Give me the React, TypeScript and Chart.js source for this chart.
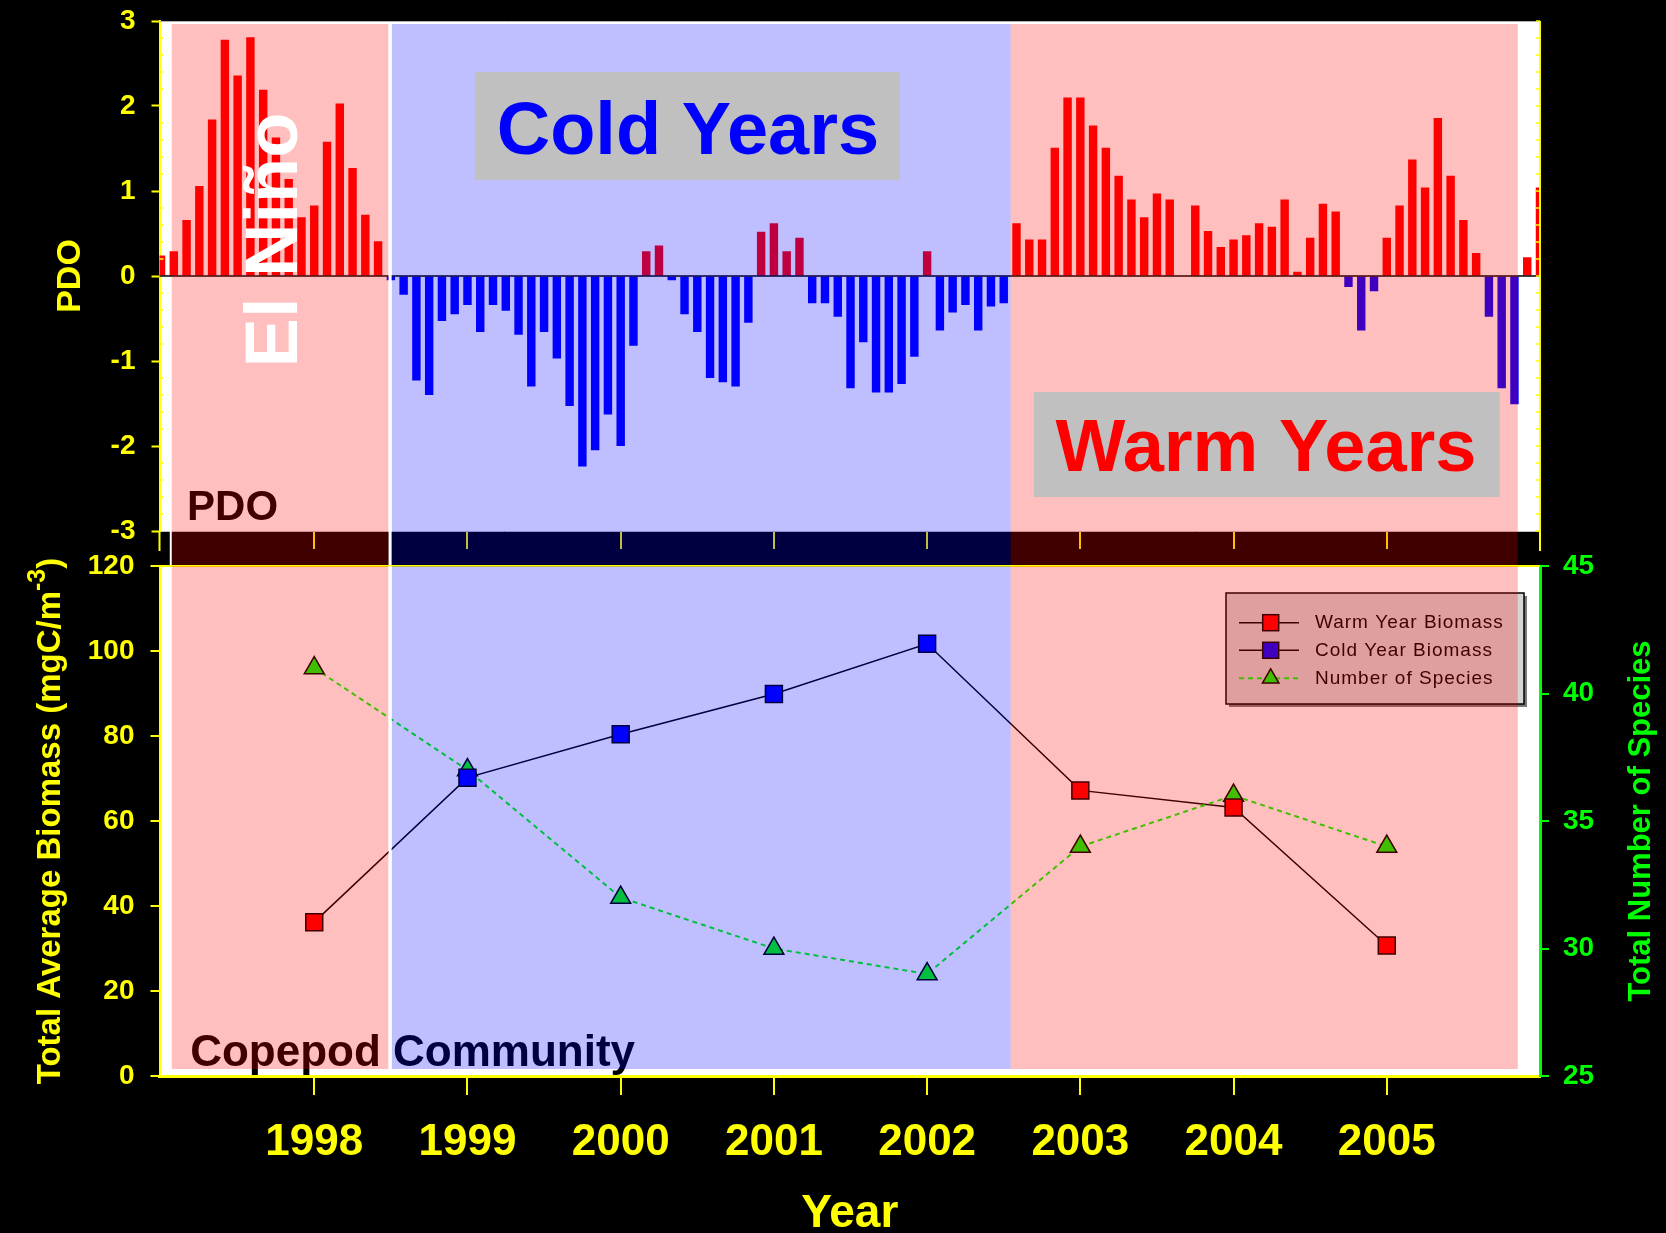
import React, { useEffect, useRef } from 'react';
import { Chart, registerables } from 'chart.js';

Chart.register(...registerables);

const FONT = "'Liberation Sans', Arial, Helvetica, sans-serif";
const YELLOW = '#ffff00';
const GREEN = '#00ff00';

// ---------- data ----------
const pdoStartYear = 1997; // first monthly bar = Jan 1997
const pdoValues = [
  0.24, 0.29, 0.66, 1.06, 1.84, 2.78, 2.36, 2.81, 2.19, 1.63, 1.14, 0.69, // 1997
  0.83, 1.58, 2.03, 1.27, 0.72, 0.41, -0.05, -0.22, -1.23, -1.4, -0.53, -0.45, // 1998
  -0.34, -0.66, -0.34, -0.41, -0.69, -1.3, -0.66, -0.97, -1.53, -2.24, -2.05, -1.63, // 1999
  -2.0, -0.82, 0.29, 0.36, -0.05, -0.45, -0.66, -1.2, -1.25, -1.3, -0.55, 0.52, // 2000
  0.62, 0.29, 0.45, -0.32, -0.32, -0.48, -1.32, -0.78, -1.37, -1.37, -1.27, -0.95, // 2001
  0.29, -0.64, -0.43, -0.34, -0.64, -0.36, -0.32, 0.62, 0.43, 0.43, 1.51, 2.1, // 2002
  2.1, 1.77, 1.51, 1.18, 0.9, 0.69, 0.97, 0.9, 0, 0.83, 0.53, 0.34, // 2003
  0.43, 0.48, 0.62, 0.58, 0.9, 0.05, 0.45, 0.85, 0.76, -0.13, -0.64, -0.18, // 2004
  0.45, 0.83, 1.37, 1.04, 1.86, 1.18, 0.66, 0.27, -0.48, -1.32, -1.51, 0.22, // 2005
  1.04, // Jan 2006
];

const years = [1998, 1999, 2000, 2001, 2002, 2003, 2004, 2005];
const warmBiomass = [36.2, null, null, null, null, 67.2, 63.2, 30.7];
const coldBiomass = [null, 70.2, 80.4, 89.9, 101.7, null, null, null];
const speciesCount = [41, 37, 32, 30, 29, 34, 36, 34];

const pdoTicks = [-3, -2, -1, 0, 1, 2, 3];
const biomassTicks = [0, 20, 40, 60, 80, 100, 120];
const speciesTicks = [25, 30, 35, 40, 45];

// warm / cold shaded periods (decimal years)
const shadeStart = [1997.07, 1998.505, 2002.545];
const shadeEnd = [1998.485, 2002.545, 2005.855];
const shadeKind = ['warm', 'cold', 'warm'];

const legendLabels = ['Warm Year Biomass', 'Cold Year Biomass', 'Number of Species'];

const X_MIN = 1996.99;
const X_MAX = 2006.0;

const WARM_FILL = 'rgba(255,0,0,0.25)';
const COLD_FILL = 'rgba(0,0,255,0.25)';

function bold(size: number) {
  return `bold ${size}px ${FONT}`;
}

function noEdgePadding(s: any) {
  s.paddingTop = 0;
  s.paddingBottom = 0;
}

function drawShading(ctx: CanvasRenderingContext2D, xs: any, top: number, bottom: number) {
  for (let i = 0; i < shadeStart.length; i++) {
    const x0 = xs.getPixelForValue(shadeStart[i]);
    const x1 = xs.getPixelForValue(shadeEnd[i]);
    ctx.fillStyle = shadeKind[i] === 'warm' ? WARM_FILL : COLD_FILL;
    ctx.fillRect(x0, top, x1 - x0, bottom - top);
  }
  // white gap between the first warm and the cold period
  const g0 = xs.getPixelForValue(shadeEnd[0]);
  const g1 = xs.getPixelForValue(shadeStart[1]);
  ctx.fillStyle = '#ffffff';
  ctx.fillRect(g0, top, g1 - g0, bottom - top);
}

function rotatedText(ctx: CanvasRenderingContext2D, text: string, x: number, y: number, font: string, color: string) {
  ctx.save();
  ctx.translate(x, y);
  ctx.rotate(-Math.PI / 2);
  ctx.font = font;
  ctx.fillStyle = color;
  ctx.textAlign = 'center';
  ctx.textBaseline = 'alphabetic';
  ctx.fillText(text, 0, 0);
  ctx.restore();
}

const topPlugin = {
  id: 'topDecor',
  beforeDraw(chart: any) {
    const { ctx, chartArea: a } = chart;
    ctx.save();
    ctx.fillStyle = '#000';
    ctx.fillRect(0, 0, chart.width, chart.height);
    ctx.fillStyle = '#fff';
    ctx.fillRect(a.left, a.top, a.right - a.left, a.bottom - a.top);
    ctx.restore();
  },
  afterDatasetsDraw(chart: any) {
    const { ctx, chartArea: a } = chart;
    const xs = chart.scales.x;
    const ys = chart.scales.y;
    const X = (v: number) => xs.getPixelForValue(v);
    const Y = (v: number) => ys.getPixelForValue(v);
    ctx.save();
    // zero line
    ctx.strokeStyle = '#000';
    ctx.lineWidth = 1.5;
    ctx.beginPath();
    ctx.moveTo(a.left, Y(0));
    ctx.lineTo(a.right, Y(0));
    ctx.stroke();
    // plot frame top
    ctx.strokeStyle = '#b0b0b0';
    ctx.lineWidth = 1;
    ctx.beginPath();
    ctx.moveTo(a.left, a.top + 0.5);
    ctx.lineTo(a.right, a.top + 0.5);
    ctx.stroke();
    // "PDO" label (under the tint)
    ctx.font = bold(42);
    ctx.fillStyle = '#000';
    ctx.textAlign = 'left';
    ctx.textBaseline = 'alphabetic';
    ctx.fillText('PDO', X(1997.17), Y(-2.871));
    // shading
    drawShading(ctx, xs, a.top + 3, chart.height);
    // white edge in the band at start of first warm period
    ctx.fillStyle = '#ffffff';
    ctx.fillRect(X(shadeStart[0]) - 2, a.bottom, 2, chart.height - a.bottom);
    // Cold Years box
    ctx.fillStyle = '#c0c0c0';
    ctx.fillRect(X(1999.049), Y(2.4), X(2001.823) - X(1999.049), Y(1.129) - Y(2.4));
    ctx.font = bold(74);
    ctx.fillStyle = '#0000ff';
    ctx.textAlign = 'center';
    ctx.fillText('Cold Years', X(2000.439), Y(1.435));
    // Warm Years box
    ctx.fillStyle = '#c0c0c0';
    ctx.fillRect(X(2002.697), Y(-1.365), X(2005.738) - X(2002.697), Y(-2.6) - Y(-1.365));
    ctx.fillStyle = '#ff0000';
    ctx.fillText('Warm Years', X(2004.212), Y(-2.294));
    // El Niño
    rotatedText(ctx, 'El Niño', X(1997.887), Y(0.424), bold(74), '#ffffff');
    ctx.restore();
  },
  afterDraw(chart: any) {
    const { ctx, chartArea: a } = chart;
    const ys = chart.scales.y;
    ctx.save();
    ctx.strokeStyle = YELLOW;
    ctx.lineWidth = 2;
    ctx.beginPath();
    ctx.moveTo(a.right, a.top);
    ctx.lineTo(a.right, a.bottom + 20);
    ctx.moveTo(a.left, a.bottom);
    ctx.lineTo(a.left, a.bottom + 20);
    ctx.stroke();
    ctx.lineWidth = 1.5;
    ctx.beginPath();
    for (let k = -15; k <= 15; k++) {
      const y = ys.getPixelForValue(k / 5);
      if (k % 5 !== 0) {
        ctx.moveTo(a.left, y);
        ctx.lineTo(a.left + 4, y);
      }
      ctx.moveTo(a.right - 4, y);
      ctx.lineTo(a.right, y);
    }
    ctx.stroke();
    ctx.restore();
  },
};

const bottomPlugin = {
  id: 'bottomDecor',
  beforeDraw(chart: any) {
    const { ctx, chartArea: a } = chart;
    ctx.save();
    ctx.fillStyle = '#fff';
    ctx.fillRect(a.left, a.top, a.right - a.left, a.bottom - a.top);
    ctx.restore();
  },
  afterDatasetsDraw(chart: any) {
    const { ctx, chartArea: a } = chart;
    const xs = chart.scales.x;
    const ys = chart.scales.y;
    const X = (v: number) => xs.getPixelForValue(v);
    const Y = (v: number) => ys.getPixelForValue(v);
    ctx.save();
    // top border
    ctx.strokeStyle = YELLOW;
    ctx.lineWidth = 2;
    ctx.beginPath();
    ctx.moveTo(a.left, a.top);
    ctx.lineTo(a.right, a.top);
    ctx.stroke();
    // Copepod Community
    ctx.font = bold(44);
    ctx.fillStyle = '#000';
    ctx.textAlign = 'left';
    ctx.textBaseline = 'alphabetic';
    ctx.fillText('Copepod Community', X(1997.19), Y(2.35));
    // legend
    const w = 298, h = 111;
    const lx = a.right - 314;
    const ly = a.top + 27;
    ctx.fillStyle = '#7a7a7a';
    ctx.fillRect(lx + 3, ly + 3, w, h);
    ctx.fillStyle = 'rgb(213,213,213)';
    ctx.fillRect(lx, ly, w, h);
    ctx.strokeStyle = '#000';
    ctx.lineWidth = 1.5;
    ctx.strokeRect(lx, ly, w, h);
    const rows = [29.7, 57.3, 85.3];
    const mx = lx + 44.7;
    ctx.font = `19px ${FONT}`;
    (ctx as any).letterSpacing = '1px';
    for (let i = 0; i < 3; i++) {
      const ry = ly + rows[i];
      ctx.lineWidth = 1.5;
      if (i < 2) {
        ctx.strokeStyle = '#000';
        ctx.setLineDash([]);
      } else {
        ctx.strokeStyle = '#00ff00';
        ctx.lineWidth = 2;
        ctx.setLineDash([5, 4]);
      }
      ctx.beginPath();
      ctx.moveTo(lx + 13, ry);
      ctx.lineTo(lx + 73, ry);
      ctx.stroke();
      ctx.setLineDash([]);
      ctx.strokeStyle = '#000';
      ctx.lineWidth = 1.5;
      if (i < 2) {
        ctx.fillStyle = i === 0 ? '#ff0000' : '#0000ff';
        ctx.fillRect(mx - 8, ry - 8, 16, 16);
        ctx.strokeRect(mx - 8, ry - 8, 16, 16);
      } else {
        const r = 9.5;
        ctx.fillStyle = '#00ff00';
        ctx.beginPath();
        ctx.moveTo(mx, ry - r);
        ctx.lineTo(mx + r * 0.866, ry + r / 2);
        ctx.lineTo(mx - r * 0.866, ry + r / 2);
        ctx.closePath();
        ctx.fill();
        ctx.stroke();
      }
      ctx.fillStyle = '#000';
      ctx.textAlign = 'left';
      ctx.textBaseline = 'middle';
      ctx.fillText(legendLabels[i], lx + 89, ry);
    }
    (ctx as any).letterSpacing = '0px';
    // tint
    drawShading(ctx, xs, a.top, a.bottom - 7);
    ctx.restore();
  },
  afterDraw(chart: any) {
    const { ctx, chartArea: a } = chart;
    const cy = (a.top + a.bottom) / 2;
    ctx.save();
    // left title with superscript
    ctx.translate(60, cy);
    ctx.rotate(-Math.PI / 2);
    ctx.fillStyle = YELLOW;
    ctx.textAlign = 'left';
    ctx.textBaseline = 'alphabetic';
    const main = 'Total Average Biomass (mgC/m';
    ctx.font = bold(33);
    const wMain = ctx.measureText(main).width;
    const wClose = ctx.measureText(')').width;
    ctx.font = bold(25);
    const wSup = ctx.measureText('-3').width;
    let x = -(wMain + wSup + wClose) / 2;
    ctx.font = bold(33);
    ctx.fillText(main, x, 0);
    x += wMain;
    ctx.font = bold(25);
    ctx.fillText('-3', x, -15);
    x += wSup;
    ctx.font = bold(33);
    ctx.fillText(')', x, 0);
    ctx.restore();
    // right title
    rotatedText(ctx, 'Total Number of Species', 1650, cy, bold(31), GREEN);
  },
};

export default function App() {
  const topRef = useRef<HTMLCanvasElement>(null);
  const botRef = useRef<HTMLCanvasElement>(null);

  useEffect(() => {
    const barColors = pdoValues.map((v) => (v >= 0 ? '#ff0000' : '#0000ff'));
    const top = new Chart(topRef.current as HTMLCanvasElement, {
      type: 'bar',
      data: {
        datasets: [
          {
            label: 'PDO',
            data: pdoValues.map((v, i) => ({ x: pdoStartYear + i / 12, y: v })),
            backgroundColor: barColors,
            borderWidth: 0,
            barPercentage: 0.66,
            categoryPercentage: 1,
          } as any,
        ],
      },
      options: {
        responsive: false,
        animation: false,
        devicePixelRatio: 1,
        layout: { padding: { top: 21, right: 126, left: 0, bottom: 0 } },
        plugins: { legend: { display: false }, tooltip: { enabled: false } },
        scales: {
          x: {
            type: 'linear',
            min: X_MIN,
            max: X_MAX,
            offset: false,
            afterBuildTicks: (s: any) => {
              s.ticks = years.map((v) => ({ value: v }));
            },
            afterFit: (s: any) => {
              s.height = 35;
              s.paddingLeft = 0;
              s.paddingRight = 0;
            },
            ticks: { display: false },
            grid: { offset: false, drawOnChartArea: false, drawTicks: true, tickLength: 18, color: YELLOW, lineWidth: 2 },
            border: { display: true, color: '#c0c0c0', width: 1 },
          },
          y: {
            type: 'linear',
            min: -3,
            max: 3,
            afterBuildTicks: (s: any) => {
              s.ticks = pdoTicks.map((v) => ({ value: v }));
            },
            afterFit: (s: any) => {
              s.width = 159.5;
              noEdgePadding(s);
            },
            ticks: { color: YELLOW, font: { family: FONT, size: 28, weight: 'bold' }, padding: 16 },
            grid: { drawOnChartArea: false, tickColor: YELLOW, tickLength: 8, tickWidth: 2 },
            border: { display: true, color: YELLOW, width: 2 },
            title: {
              display: true,
              text: 'PDO',
              color: YELLOW,
              font: { family: FONT, size: 34, weight: 'bold' },
              padding: { top: 50, bottom: 0 },
            },
          },
        },
      } as any,
      plugins: [topPlugin],
    });

    const bioPath = years.map((y, i) => ({ x: y, y: warmBiomass[i] ?? coldBiomass[i] }));
    const bottom = new Chart(botRef.current as HTMLCanvasElement, {
      type: 'line',
      data: {
        datasets: [
          {
            label: 'Biomass path',
            data: bioPath,
            yAxisID: 'y',
            borderColor: '#000',
            borderWidth: 1.5,
            pointRadius: 0,
            order: 4,
          },
          {
            label: legendLabels[2],
            data: years.map((y, i) => ({ x: y, y: speciesCount[i] })),
            yAxisID: 'ySp',
            borderColor: '#00ff00',
            borderWidth: 2,
            borderDash: [5, 4],
            pointStyle: 'triangle',
            pointRadius: 11.5,
            pointBackgroundColor: '#00ff00',
            pointBorderColor: '#000',
            pointBorderWidth: 1.5,
            order: 3,
          },
          {
            label: legendLabels[0],
            data: years.map((y, i) => ({ x: y, y: warmBiomass[i] })),
            yAxisID: 'y',
            showLine: false,
            pointStyle: 'rect',
            pointRadius: 12,
            pointBackgroundColor: '#ff0000',
            pointBorderColor: '#000',
            pointBorderWidth: 1.5,
            order: 1,
          },
          {
            label: legendLabels[1],
            data: years.map((y, i) => ({ x: y, y: coldBiomass[i] })),
            yAxisID: 'y',
            showLine: false,
            pointStyle: 'rect',
            pointRadius: 12,
            pointBackgroundColor: '#0000ff',
            pointBorderColor: '#000',
            pointBorderWidth: 1.5,
            order: 1,
          },
        ] as any,
      },
      options: {
        responsive: false,
        animation: false,
        devicePixelRatio: 1,
        layout: { padding: { top: 30, right: 0, left: 0, bottom: 0 } },
        plugins: { legend: { display: false }, tooltip: { enabled: false } },
        scales: {
          x: {
            type: 'linear',
            min: X_MIN,
            max: X_MAX,
            offset: false,
            afterBuildTicks: (s: any) => {
              s.ticks = years.map((v) => ({ value: v }));
            },
            afterFit: (s: any) => {
              s.height = 157;
              s.paddingLeft = 0;
              s.paddingRight = 0;
            },
            ticks: {
              color: YELLOW,
              font: { family: FONT, size: 44, weight: 'bold' },
              padding: 21,
              autoSkip: false,
              maxRotation: 0,
              callback: (v: any) => String(v),
            },
            grid: { offset: false, drawOnChartArea: false, drawTicks: true, tickLength: 19, color: YELLOW, lineWidth: 2 },
            border: { display: true, color: YELLOW, width: 3 },
            title: {
              display: true,
              text: 'Year',
              color: YELLOW,
              font: { family: FONT, size: 46, weight: 'bold' },
              padding: { top: 0, bottom: -9 },
            },
          },
          y: {
            type: 'linear',
            position: 'left',
            min: 0,
            max: 120,
            afterBuildTicks: (s: any) => {
              s.ticks = biomassTicks.map((v) => ({ value: v }));
            },
            afterFit: (s: any) => {
              s.width = 159.5;
              noEdgePadding(s);
            },
            ticks: { color: YELLOW, font: { family: FONT, size: 28, weight: 'bold' }, padding: 16 },
            grid: { drawOnChartArea: false, color: YELLOW, tickLength: 9, lineWidth: 2 },
            border: { display: true, color: YELLOW, width: 2 },
          },
          ySp: {
            type: 'linear',
            position: 'right',
            min: 25,
            max: 45,
            afterBuildTicks: (s: any) => {
              s.ticks = speciesTicks.map((v) => ({ value: v }));
            },
            afterFit: (s: any) => {
              s.width = 126;
              noEdgePadding(s);
            },
            ticks: { color: GREEN, font: { family: FONT, size: 28, weight: 'bold' }, padding: 14 },
            grid: { drawOnChartArea: false, color: GREEN, tickLength: 9, lineWidth: 2 },
            border: { display: true, color: GREEN, width: 3 },
          },
        },
      } as any,
      plugins: [bottomPlugin],
    });

    return () => {
      top.destroy();
      bottom.destroy();
    };
  }, []);

  return (
    <div
      style={{
        position: 'absolute',
        left: 0,
        top: 0,
        width: 1666,
        height: 1233,
        background: '#000',
        overflow: 'hidden',
      }}
    >
      <canvas
        ref={topRef}
        width={1666}
        height={566}
        style={{ position: 'absolute', left: 0, top: 0, width: 1666, height: 566 }}
      />
      <canvas
        ref={botRef}
        width={1666}
        height={697}
        style={{ position: 'absolute', left: 0, top: 536, width: 1666, height: 697 }}
      />
    </div>
  );
}
